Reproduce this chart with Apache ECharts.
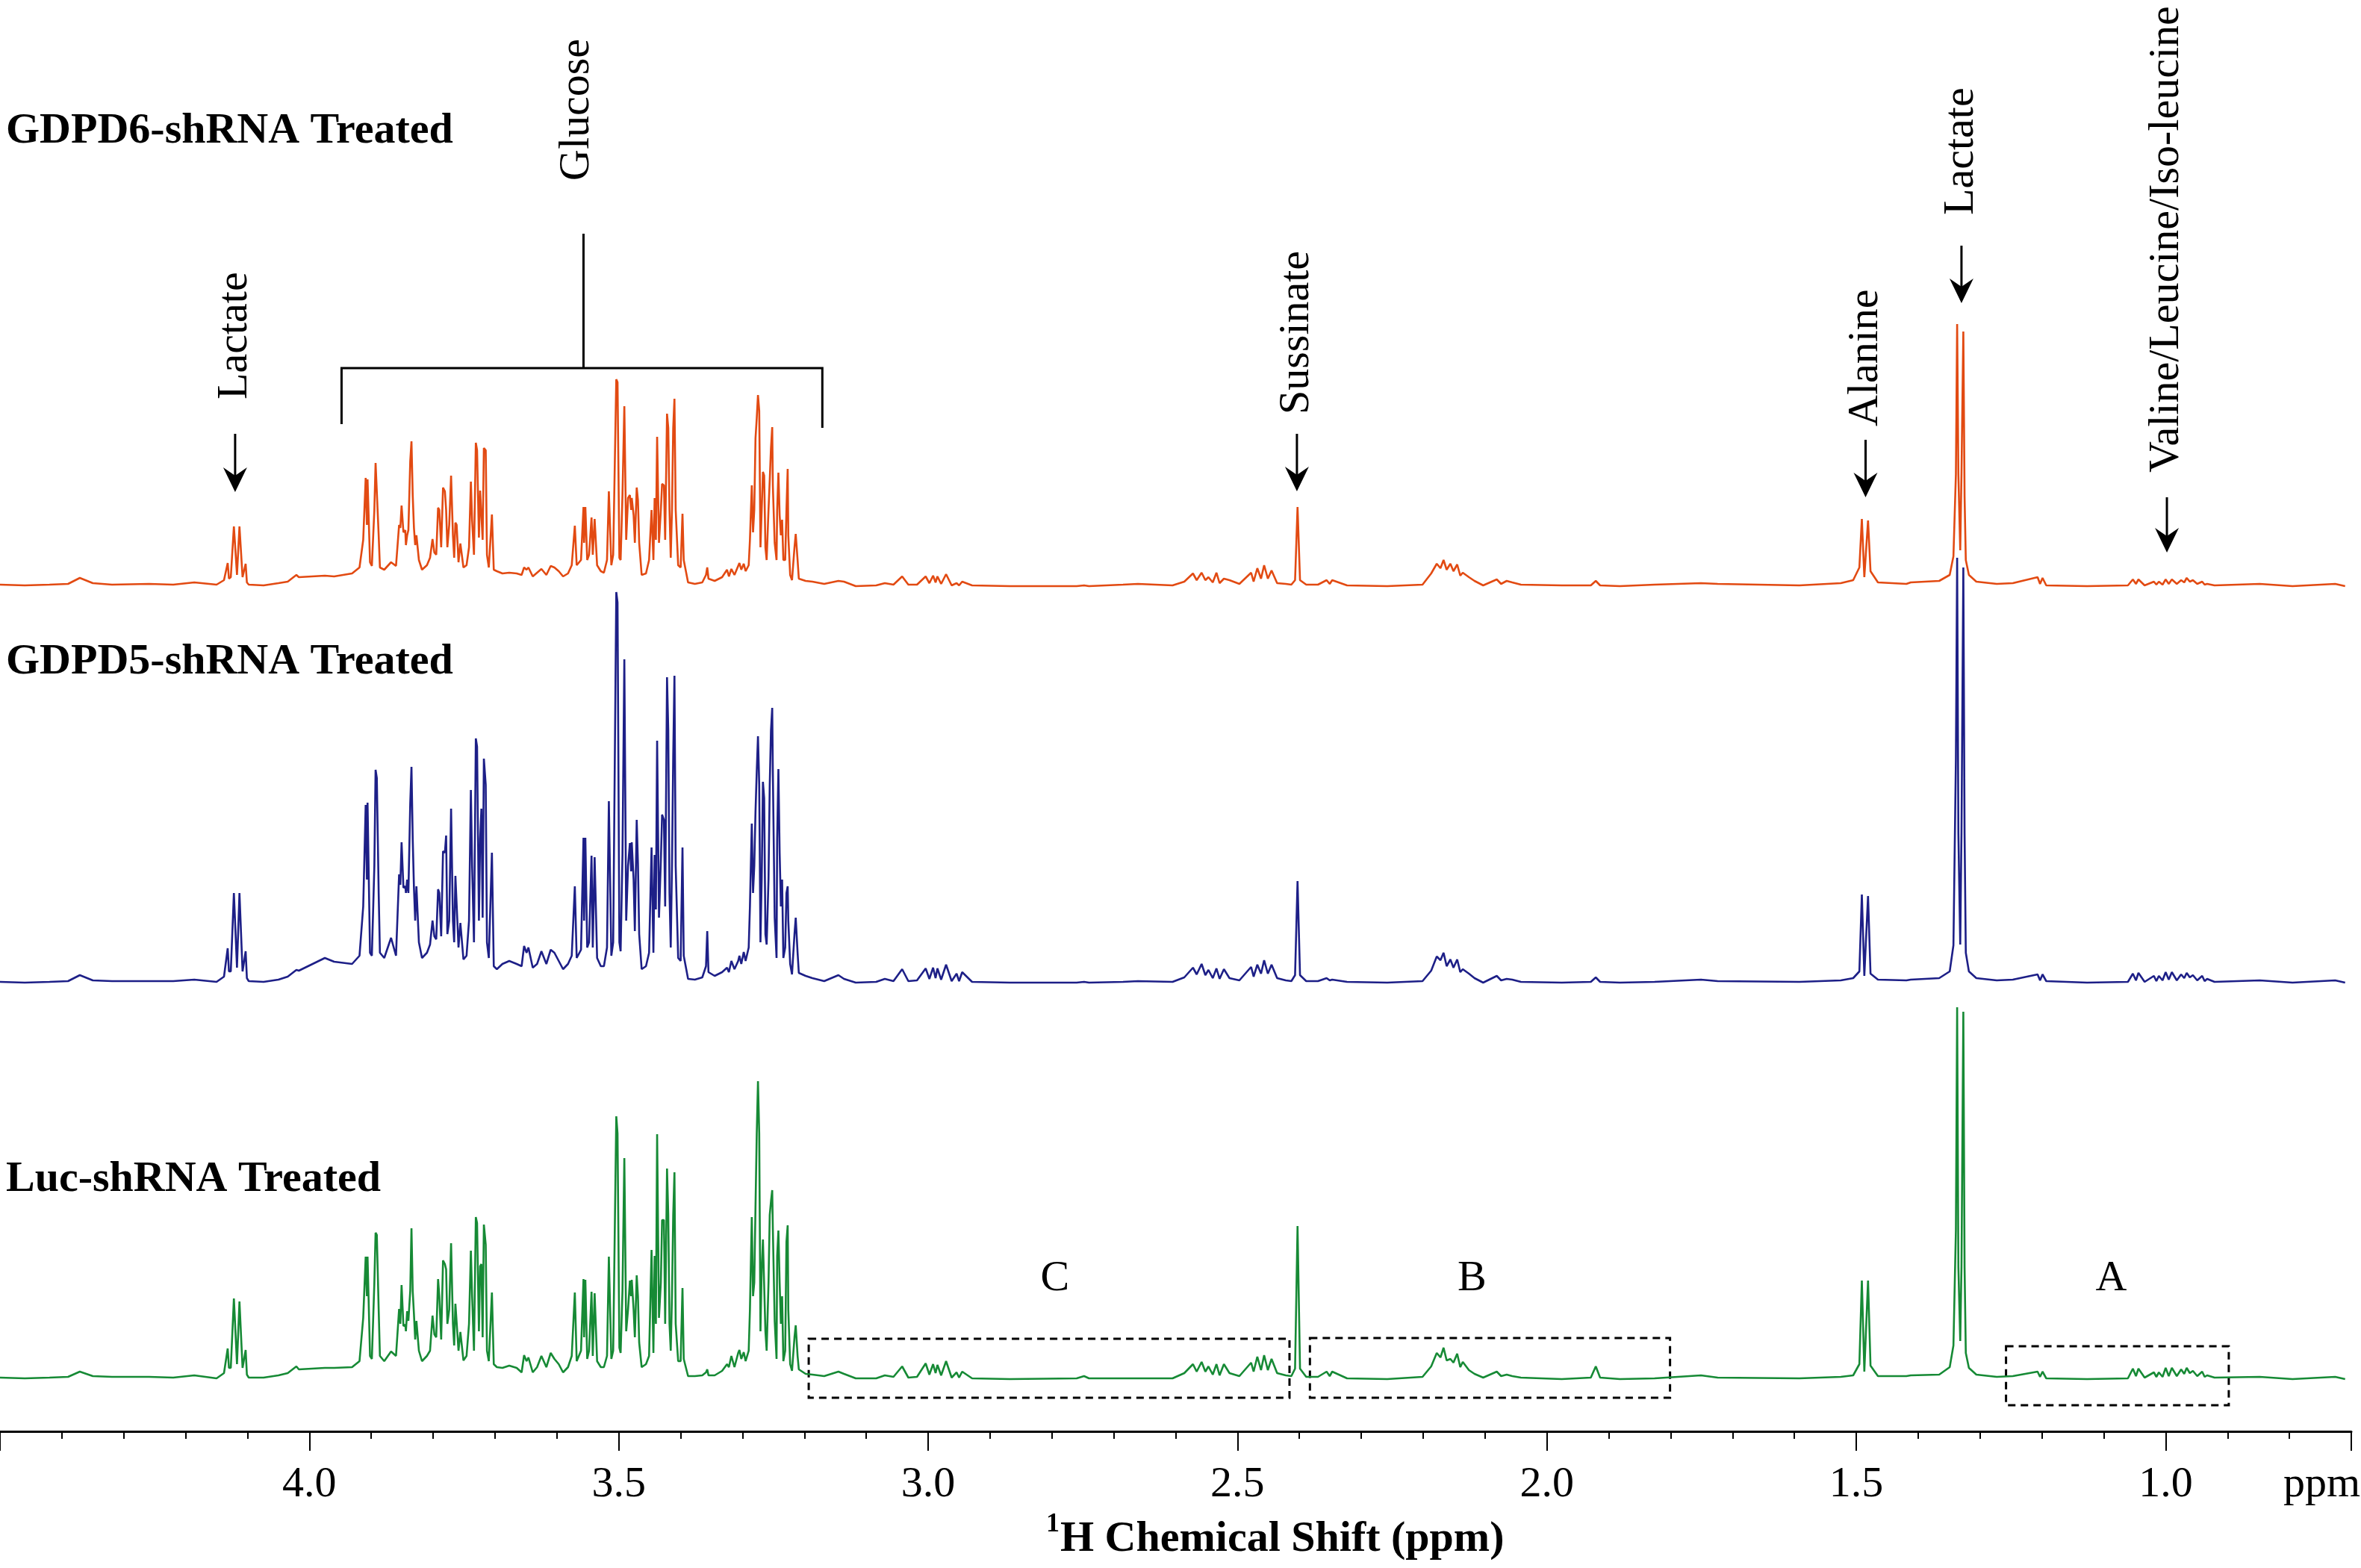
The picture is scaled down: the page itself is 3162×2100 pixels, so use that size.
<!DOCTYPE html>
<html>
<head>
<meta charset="utf-8">
<title>1H NMR spectra</title>
<script src="https://cdn.jsdelivr.net/npm/echarts@6/dist/echarts.min.js"></script>
<style>
html,body{margin:0;padding:0;background:#fff;}
#main{width:3162px;height:2100px;}
</style>
</head>
<body>
<div id="main"></div>
<script>
// chemical shift grid (ppm), shared by the three spectra
var ppm = [
  4.500,4.460,4.420,4.390,4.371,4.350,4.319,4.259,4.220,4.186,
  4.150,4.138,4.132,4.130,4.127,4.122,4.117,4.113,4.108,4.103,
  4.101,4.098,4.074,4.050,4.035,4.021,
  // glucose
  4.017,3.975,3.960,3.931,3.919,3.913,3.909,3.907,3.906,3.902,
  3.899,3.895,3.893,3.891,3.888,3.886,3.879,3.868,3.860,3.855,
  3.853,3.851,3.848,3.845,3.844,3.842,3.840,3.837,3.835,3.833,
  3.831,3.829,3.827,3.823,3.818,3.810,3.805,3.801,3.798,3.795,
  3.792,3.790,3.787,3.784,3.781,3.779,3.777,3.774,3.771,3.768,
  3.766,3.764,3.762,3.759,3.756,3.754,3.751,3.746,3.742,3.739,
  3.737,3.734,3.731,3.729,3.726,3.724,3.722,3.720,3.718,3.715,
  3.713,3.710,3.705,3.702,3.697,3.688,3.677,3.665,3.657,3.653,
  3.649,3.646,3.639,3.632,3.625,3.617,3.610,3.604,3.597,3.590,
  3.582,3.576,3.571,3.568,3.561,3.557,3.556,3.554,3.551,3.548,
  3.544,3.542,3.539,3.535,3.529,3.524,3.519,3.516,3.512,3.509,
  3.504,3.502,3.499,3.497,3.494,3.491,3.488,3.485,3.482,3.480,
  3.479,3.476,3.474,3.471,3.469,3.467,3.463,3.456,3.451,3.447,
  3.444,3.442,3.440,3.438,3.435,3.432,3.430,3.427,3.425,3.422,
  3.420,3.418,3.416,3.414,3.412,3.410,3.408,3.404,3.400,3.397,
  3.395,3.388,3.377,3.365,3.359,3.357,3.355,3.345,3.333,3.325,
  3.322,3.318,3.313,3.307,3.305,3.302,3.298,3.295,3.290,3.288,
  3.285,3.283,3.281,3.279,3.277,3.275,3.273,3.271,3.269,3.267,
  3.265,3.263,3.261,3.258,3.256,3.254,3.252,3.251,3.248,3.245,
  3.244,3.242,3.240,3.238,3.236,3.234,3.231,3.229,3.227,3.226,
  3.223,3.220,3.216,3.214,3.211,3.209,3.198,
  // 3.2 - 1.75
  3.187,3.168,3.145,3.136,3.117,3.084,3.070,3.056,3.042,3.032,
  3.018,3.004,2.998,2.992,2.988,2.985,2.979,2.971,2.962,2.954,
  2.950,2.945,2.929,2.868,2.760,2.748,2.740,2.685,2.661,2.605,
  2.586,2.572,2.566,2.558,2.552,2.547,2.540,2.534,2.529,2.522,
  2.513,2.497,2.478,2.474,2.468,2.462,2.457,2.451,2.445,2.436,
  2.422,2.413,2.407,2.403,2.399,2.389,2.370,2.356,2.351,2.347,
  2.323,2.258,2.201,2.187,2.178,2.172,2.167,2.162,2.156,2.151,
  2.145,2.140,2.136,2.126,2.117,2.103,2.081,2.074,2.065,2.056,
  2.042,1.976,1.929,1.921,1.914,1.882,1.826,1.751,
  // 1.75 - 0.7
  1.724,1.592,1.525,1.505,1.495,1.491,1.487,1.481,1.477,1.465,
  1.419,1.412,1.366,1.349,1.343,1.339,1.337,1.335,1.332,1.330,
  1.327,1.325,1.323,1.318,1.306,1.273,1.247,1.207,1.203,1.199,
  1.193,1.127,1.061,1.053,1.048,1.044,1.034,1.019,1.015,1.011,
  1.005,1.000,0.995,0.990,0.982,0.975,0.970,0.966,0.961,0.956,
  0.949,0.941,0.937,0.933,0.921,0.848,0.795,0.726,0.710
];

// intensities (arbitrary units) per sample
var gdpd6 = [
  2,1,2,3,11,4,2,3,2,5,
  2,8,31,10,12,80,15,80,12,30,
  5,2,1,4,6,15,
  12,14,13,17,25,62,145,82,143,32,
  27,102,165,164,68,25,22,32,27,82,
  78,108,72,75,55,68,75,167,194,122,
  78,55,68,35,22,28,38,63,45,42,
  105,102,52,132,127,102,52,82,148,68,
  38,85,82,32,57,55,25,28,52,140,
  88,42,192,182,65,128,127,62,185,182,
  42,25,96,22,20,17,18,17,15,25,
  22,25,13,18,23,15,27,25,20,13,
  17,28,81,28,35,106,58,106,35,42,
  92,42,90,28,20,18,35,127,28,42,
  277,273,38,35,122,241,62,118,122,102,
  118,95,58,132,115,58,15,17,35,102,
  35,118,62,200,58,102,137,135,62,231,
  212,102,38,102,212,251,102,28,25,97,
  35,5,3,5,15,25,10,7,12,22,
  13,23,15,27,31,22,30,20,28,62,
  135,72,102,198,225,256,235,52,102,153,
  148,52,35,102,142,185,213,135,58,35,
  102,152,95,68,89,35,35,102,157,68,
  15,8,52,70,35,10,7,
  6,3,7,6,0,1,4,2,13,2,
  2,13,4,14,5,13,3,16,1,4,
  1,6,1,0,0,1,0,2,3,1,
  6,17,8,18,8,12,5,18,4,10,
  8,3,18,6,24,10,28,10,21,4,
  3,2,8,106,8,2,2,8,3,8,
  1,0,2,17,30,24,35,22,30,20,
  29,14,18,12,7,1,9,3,7,5,
  2,1,1,7,1,0,2,4,
  3,1,4,8,25,90,12,88,20,5,
  3,5,7,15,40,150,351,150,48,150,
  341,120,35,15,6,3,4,12,3,11,
  1,0,1,9,3,9,1,6,2,6,
  2,9,3,9,3,8,5,11,6,8,
  3,6,2,3,1,3,0,3,0
];

var gdpd5 = [
  1,0,1,2,10,3,2,2,2,4,
  1,8,46,15,15,120,20,120,15,42,
  6,2,1,4,8,17,
  16,33,28,25,36,102,238,138,241,40,
  36,156,285,274,120,40,33,60,36,145,
  131,188,127,129,120,138,120,240,289,193,
  127,83,129,54,33,40,51,83,62,58,
  125,120,62,176,174,197,65,83,233,83,
  54,143,142,47,80,80,31,36,83,258,
  156,54,327,316,83,193,233,87,300,265,
  54,33,174,22,18,25,29,25,22,49,
  40,47,20,25,42,25,44,40,29,18,
  25,36,129,33,44,194,83,194,47,54,
  170,47,168,33,22,22,47,243,36,54,
  523,509,54,42,171,433,83,156,187,149,
  188,138,69,218,160,65,18,22,40,181,
  40,171,98,324,87,163,225,218,102,409,
  338,120,47,156,302,411,156,33,29,181,
  36,5,4,7,22,69,14,9,14,20,
  14,29,18,29,36,25,41,29,47,102,
  213,120,156,229,283,330,265,54,138,269,
  247,65,51,138,265,338,368,283,87,33,
  193,286,174,102,138,33,47,120,129,83,
  25,11,65,87,40,13,9,
  6,2,10,5,0,1,5,2,18,2,
  3,19,5,20,6,19,4,24,2,12,
  2,14,1,0,0,1,0,1,2,1,
  7,20,11,25,10,17,6,19,5,18,
  6,3,21,8,24,12,30,12,24,6,
  3,2,10,136,10,2,2,6,3,4,
  1,0,2,16,35,30,40,22,31,20,
  31,14,18,12,6,0,9,3,5,4,
  1,0,1,7,1,0,1,4,
  2,1,3,6,15,118,9,116,12,4,
  3,4,6,15,50,300,569,200,51,200,
  556,200,40,15,6,3,4,11,3,11,
  2,0,1,12,3,13,1,9,2,9,
  3,14,4,14,3,11,6,13,7,10,
  3,9,2,5,1,3,0,3,0
];

var luc = [
  2,1,2,3,10,4,3,3,2,5,
  1,8,41,15,15,108,20,104,15,39,
  6,2,2,5,8,17,
  13,15,15,16,24,82,164,111,164,31,
  27,129,196,193,93,31,24,37,31,94,
  74,126,71,73,64,91,78,118,202,118,
  87,53,78,38,24,31,38,85,60,56,
  134,111,53,159,154,147,74,93,182,74,
  45,101,100,38,63,62,25,31,74,172,
  111,38,217,209,64,151,154,56,207,180,
  38,24,116,20,16,15,18,15,9,32,
  24,29,9,16,31,16,35,27,20,9,
  16,31,116,24,38,134,56,133,27,38,
  117,31,115,24,16,16,31,164,27,38,
  352,329,42,35,118,296,64,93,132,111,
  133,93,56,139,111,49,16,20,31,173,
  35,165,74,328,82,129,213,213,74,282,
  220,74,38,111,220,277,74,24,24,122,
  27,4,4,5,9,13,5,5,11,20,
  16,31,16,35,39,27,36,24,38,93,
  217,111,129,231,329,399,329,64,147,187,
  186,64,38,129,220,238,253,202,78,27,
  165,199,129,74,111,24,38,184,206,93,
  20,11,56,72,31,13,7,
  6,4,10,7,1,1,5,3,17,2,
  3,21,6,20,8,19,5,24,2,9,
  2,10,1,0,1,4,1,1,1,1,
  8,20,10,23,10,17,6,20,5,20,
  8,4,22,10,30,12,32,12,27,8,
  5,4,14,205,14,3,3,10,4,10,
  1,0,3,17,35,29,42,25,27,22,
  34,16,23,12,7,2,10,4,6,4,
  2,0,2,17,2,0,1,5,
  2,1,3,5,20,132,10,132,18,4,
  4,5,6,16,45,200,498,150,51,150,
  492,150,35,15,6,3,4,10,3,10,
  1,0,1,14,4,14,2,9,3,9,
  3,15,4,15,4,13,7,15,8,11,
  4,10,3,5,2,3,0,3,0
];

var sampleNames = ['GDPD6-shRNA Treated', 'GDPD5-shRNA Treated', 'Luc-shRNA Treated'];
var sampleData = [gdpd6, gdpd5, luc];
var tickValues = [4.0, 3.5, 3.0, 2.5, 2.0, 1.5, 1.0];

// metabolite assignments (ppm)
var peakLabels = ['Lactate', 'Sussinate', 'Alanine', 'Lactate', 'Valine/Leucine/Iso-leucine'];
var peakPpm = [4.12, 2.404, 1.485, 1.330, 0.998];
var regionNames = ['C', 'B', 'A'];
var regionFrom = [3.193, 2.383, 1.258];
var regionTo = [2.416, 1.801, 0.898];
var regionLabelPpm = [2.795, 2.121, 1.088];

// layout
var colors = ['#E24A12', '#1D1F87', '#168A35'];
var baseY = [785, 1316, 1847];       // zero line of each spectrum, px
var plotH = 600;
var labelBaseline = [196, 907, 1600];
var arrowTop = [581, 581, 589, 329, 666];
var arrowTip = [659, 658, 666, 406, 740];
var textBottom = [535, 555, 571, 288, 633];
var serif = '"Liberation Serif", "Times New Roman", serif';

var grids = [], xAxes = [], yAxes = [], series = [];
for (var i = 0; i < 3; i++) {
  grids.push({left: 0, right: 13, top: baseY[i] - plotH, height: plotH});
  var last = i === 2;
  xAxes.push({
    gridIndex: i, type: 'value', min: 0.7, max: 4.5, inverse: true,
    splitNumber: 8, show: last, offset: last ? 70 : 0,
    axisLine: {show: last, onZero: false, lineStyle: {color: '#000', width: 3}},
    axisTick: {show: last, length: 26, lineStyle: {color: '#000', width: 2}},
    minorTick: {show: last, splitNumber: 5, length: 10, lineStyle: {color: '#000', width: 2}},
    axisLabel: {
      show: last, color: '#000', fontFamily: serif, fontSize: 58, margin: 43,
      showMinLabel: false, showMaxLabel: false,
      formatter: function (v) { return tickValues.indexOf(Math.round(v * 10) / 10) >= 0 ? v.toFixed(1) : ''; }
    },
    splitLine: {show: false}
  });
  yAxes.push({gridIndex: i, type: 'value', min: 0, max: plotH, show: false});
  series.push({
    name: sampleNames[i], type: 'line', xAxisIndex: i, yAxisIndex: i,
    data: ppm.map(function (p, k) { return [p, sampleData[i][k]]; }),
    showSymbol: false, clip: false, silent: true,
    lineStyle: {color: colors[i], width: 2.6}
  });
}

var chart = echarts.init(document.getElementById('main'));
chart.setOption({
  animation: false,
  backgroundColor: '#fff',
  grid: grids, xAxis: xAxes, yAxis: yAxes, series: series
});

function px(p) { return chart.convertToPixel({xAxisIndex: 2}, p); }

var g = [];
var blk = {stroke: '#000', lineWidth: 3};
// sample names
for (var i = 0; i < 3; i++) {
  g.push({type: 'text', x: 8, y: labelBaseline[i] - 20,
    style: {text: sampleNames[i], font: 'bold 58px ' + serif, fill: '#000', verticalAlign: 'middle'}});
}
// metabolite arrows and rotated names
for (var j = 0; j < peakLabels.length; j++) {
  var ax = px(peakPpm[j]);
  g.push({type: 'line', shape: {x1: ax, y1: arrowTop[j], x2: ax, y2: arrowTip[j] - 10}, style: blk});
  g.push({type: 'polygon', shape: {points: [[ax - 16, arrowTip[j] - 33], [ax, arrowTip[j] - 22], [ax + 16, arrowTip[j] - 33], [ax, arrowTip[j]]]},
    style: {fill: '#000'}});
  g.push({type: 'text', x: ax, y: textBottom[j], rotation: Math.PI / 2,
    style: {text: peakLabels[j], font: '58px ' + serif, fill: '#000', align: 'left', verticalAlign: 'middle'}});
}
// glucose bracket
var gx = px(3.557), gl = px(3.948), gr = px(3.171);
g.push({type: 'polyline', shape: {points: [[gl, 568], [gl, 493], [gr, 493], [gr, 573]]}, style: {stroke: '#000', lineWidth: 3, fill: null}});
g.push({type: 'line', shape: {x1: gx, y1: 313, x2: gx, y2: 493}, style: blk});
g.push({type: 'text', x: px(3.567), y: 242, rotation: Math.PI / 2,
  style: {text: 'Glucose', font: '58px ' + serif, fill: '#000', align: 'left', verticalAlign: 'middle'}});
// dashed regions C, B, A
var boxTop = [1793, 1792, 1803], boxBottom = [1872, 1872, 1882];
for (var r = 0; r < 3; r++) {
  var x1 = px(regionFrom[r]), x2 = px(regionTo[r]);
  g.push({type: 'rect', shape: {x: x1, y: boxTop[r], width: x2 - x1, height: boxBottom[r] - boxTop[r]},
    style: {fill: null, stroke: '#000', lineWidth: 3, lineDash: [10, 7]}});
  g.push({type: 'text', x: px(regionLabelPpm[r]), y: 1713,
    style: {text: regionNames[r], font: '58px ' + serif, fill: '#000', align: 'center', verticalAlign: 'middle'}});
}
// axis name and unit
g.push({type: 'text', x: 1401, y: 2042, style: {text: '1', font: 'bold 36px ' + serif, fill: '#000', verticalAlign: 'middle'}});
g.push({type: 'text', x: 1420, y: 2062, style: {text: 'H Chemical Shift (ppm)', font: 'bold 58px ' + serif, fill: '#000', verticalAlign: 'middle'}});
g.push({type: 'text', x: 3058, y: 1989, style: {text: 'ppm', font: '58px ' + serif, fill: '#000', verticalAlign: 'middle'}});

chart.setOption({graphic: {elements: g}});
</script>
</body>
</html>
